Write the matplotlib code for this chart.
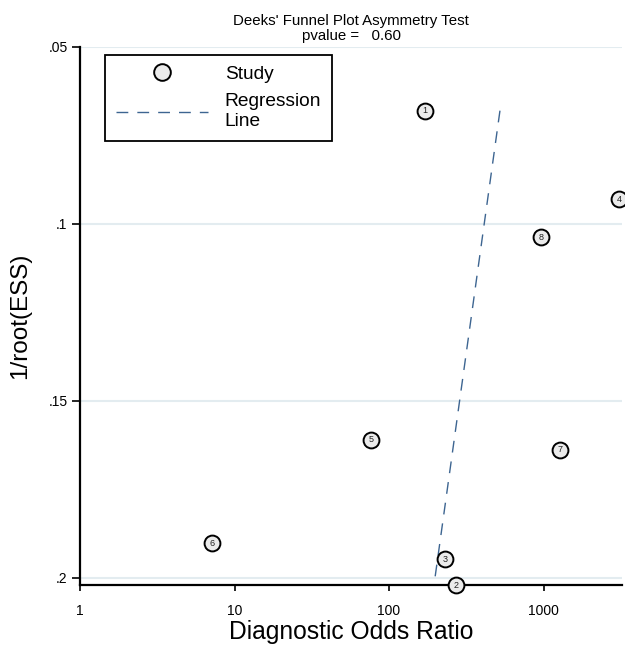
import matplotlib
matplotlib.use("Agg")
import matplotlib.pyplot as plt
import numpy as np
from matplotlib.lines import Line2D

plt.rcParams['font.family'] = ['Liberation Sans', 'DejaVu Sans']

# Data
study_ids = ["1", "2", "3", "4", "5", "6", "7", "8"]
dor = [171, 271, 230, 3083, 76.4, 7.15, 1279, 963]
inv_root_ess = [0.0680, 0.2021, 0.1948, 0.0931, 0.1610, 0.1903, 0.1638, 0.1038]
# regression: log10(DOR) = intercept + slope * (1/root(ESS))
reg_intercept = 2.9345
reg_slope = -3.184
pvalue = 0.60
yticks = [0.05, 0.1, 0.15, 0.2]
ytick_labels = [".05", ".1", ".15", ".2"]
xticks = [1, 10, 100, 1000]
xtick_labels = ["1", "10", "100", "1000"]

fig = plt.figure(figsize=(6.25, 6.45), dpi=100)
ax = fig.add_axes([80/625, 1-585/645, 542/625, (585-47)/645])

ax.set_xscale('log')
ax.set_xlim(1, 3220)
ax.set_ylim(0.2021, 0.05)

for yt in yticks:
    ax.axhline(yt, color='#e3ecf0', lw=1.5, zorder=0)

ax.scatter(dor, inv_root_ess, s=130, facecolor='#ebebeb', edgecolor='black',
           linewidth=1.4, zorder=3, clip_on=False)
for sid, x, y in zip(study_ids, dor, inv_root_ess):
    ax.text(x, y, sid, ha='center', va='center', fontsize=6.5, color='#222222',
            zorder=4, clip_on=False)

dash = (0, (8.5, 6.5))
yline = np.array([min(inv_root_ess), max(inv_root_ess)])
xline = 10 ** (reg_intercept + reg_slope * yline)
ax.plot(xline, yline, color='#3d6591', lw=1.0, ls=dash, zorder=2)

ax.set_yticks(yticks)
ax.set_yticklabels(ytick_labels, fontsize=10)
ax.set_xticks(xticks)
ax.set_xticklabels(xtick_labels, fontsize=10)
ax.minorticks_off()
ax.tick_params(axis='y', length=6, width=1.2, pad=3)
ax.tick_params(axis='x', length=4, width=1.2, pad=10)

for s in ['top', 'right']:
    ax.spines[s].set_visible(False)
for s in ['left', 'bottom']:
    ax.spines[s].set_linewidth(1.6)

ax.set_ylabel("1/root(ESS)", fontsize=17.5, labelpad=12)
ax.set_xlabel("Diagnostic Odds Ratio", fontsize=17.7, labelpad=1)

fig.text(351/625, 1-21/645, "Deeks' Funnel Plot Asymmetry Test", ha='center', va='center', fontsize=10.8)
fig.text(351/625, 1-36/645, "pvalue =   %.2f" % pvalue, ha='center', va='center', fontsize=10.8)

handles = [
    Line2D([], [], marker='o', ls='none', markersize=12, markerfacecolor='#ebebeb',
           markeredgecolor='black', markeredgewidth=1.4),
    Line2D([], [], color='#3d6591', lw=1.0, ls=dash),
]
leg = ax.legend(handles, ["Study", "Regression\nLine"], loc='upper left',
                bbox_to_anchor=(25/542, 1-8/538), fontsize=13.8, frameon=True,
                fancybox=False, edgecolor='black', framealpha=1, handlelength=4.8,
                handletextpad=0.9, borderpad=0.55, labelspacing=0.55, borderaxespad=0)
leg.get_frame().set_linewidth(1.3)

fig.savefig("out.png", dpi=100)
